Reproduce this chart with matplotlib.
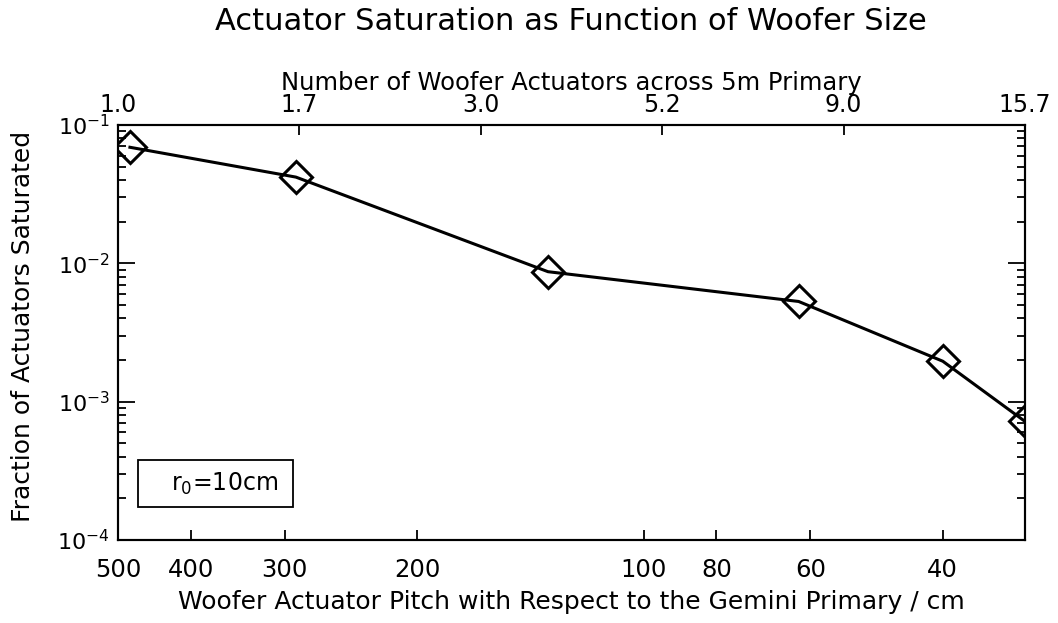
import numpy as np
import matplotlib
matplotlib.use("Agg")
import matplotlib.pyplot as plt
from matplotlib.patches import Rectangle

# woofer actuator pitch (cm) and fraction of actuators saturated
pitch = [482, 290, 134, 62.2, 40.0, 31.1]
frac_sat = [0.069, 0.042, 0.0087, 0.0053, 0.00196, 0.00072]

bottom_ticks = [500, 400, 300, 200, 100, 80, 60, 40]
top_labels = ["1.0", "1.7", "3.0", "5.2", "9.0", "15.7"]

pitch_max = 500.0
pitch_min = 31.1

plt.rcParams['font.family'] = ['DejaVu Sans']

fig = plt.figure(figsize=(10.58, 6.23), dpi=100)
ax = fig.add_axes([0.1115, 0.1332, 0.8573, 0.6662])

# markers at the ends get cut by the frame, as in the original plot
ax.plot(pitch, frac_sat, color='black', lw=2.2, marker='D', ms=16,
        mfc='none', mec='black', mew=2.2, zorder=3)

ax.set_xscale('log')
ax.set_yscale('log')
ax.set_xlim(pitch_max, pitch_min)
ax.set_ylim(1e-4, 1e-1)

ax.set_xticks(bottom_ticks)
ax.set_xticklabels([str(t) for t in bottom_ticks])
ax.xaxis.set_minor_locator(matplotlib.ticker.NullLocator())
ax.tick_params(axis='x', which='major', direction='in', length=7, width=1.3,
               labelsize=17.5, pad=13, top=False)
ax.tick_params(axis='y', which='major', direction='in', length=12, width=1.3,
               labelsize=16, pad=6, right=True)
ax.tick_params(axis='y', which='minor', direction='in', length=6, width=1.3,
               right=True)
for s in ax.spines.values():
    s.set_linewidth(1.5)

ax.set_xlabel("Woofer Actuator Pitch with Respect to the Gemini Primary / cm",
              fontsize=18, labelpad=6)
ax.set_ylabel("Fraction of Actuators Saturated", fontsize=18)
ax.yaxis.set_label_coords(-0.091, 0.515)

# top axis: number of actuators across the 5m primary
top = ax.twiny()
top.set_xscale('log')
top.set_xlim(1.0, pitch_max / pitch_min)
top.set_xticks(np.geomspace(1.0, pitch_max / pitch_min, len(top_labels)))
top.set_xticklabels(top_labels)
top.xaxis.set_minor_locator(matplotlib.ticker.NullLocator())
top.tick_params(axis='x', which='major', direction='in', length=7, width=1.3,
                labelsize=17, pad=6)
top.set_xlabel("Number of Woofer Actuators across 5m Primary", fontsize=17.5,
               labelpad=2)
for s in top.spines.values():
    s.set_linewidth(1.5)

# r0 label box
ax.add_patch(Rectangle((0.022, 0.0795), 0.171, 0.113, transform=ax.transAxes,
                       fill=False, ec='black', lw=1.3))
ax.text(0.117, 0.135, "r$_0$=10cm", transform=ax.transAxes, fontsize=17,
        ha='center', va='center')

fig.text(0.54, 0.966, "Actuator Saturation as Function of Woofer Size",
         fontsize=22, ha='center', va='center')

fig.savefig("out.png", dpi=100)
